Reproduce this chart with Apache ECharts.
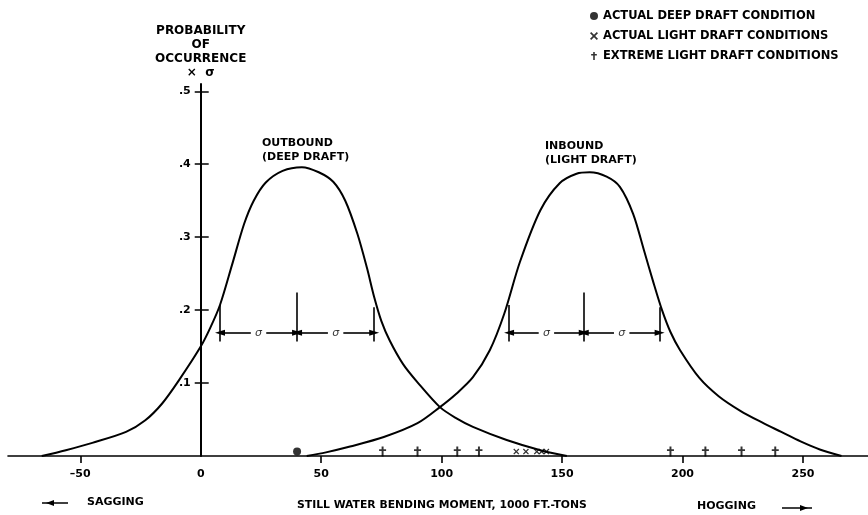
<!DOCTYPE html>
<html>
<head>
<meta charset="utf-8">
<script src="https://cdn.jsdelivr.net/npm/echarts@6/dist/echarts.min.js"></script>
<style>
  html, body { margin: 0; padding: 0; background: #fff; }
  #chart { width: 868px; height: 515px; }
</style>
</head>
<body>
<div id="chart"></div>
<script>
// Outbound (deep draft) distribution: bending moment vs probability x sigma
const outboundX = [-66, -56, -45, -31, -23, -16, -9, 0, 4, 8, 13, 18, 22, 27, 34, 42, 49, 55, 60, 65, 69, 72, 75, 78.5, 84, 90, 99.3, 106, 113, 127, 141, 152];
const outboundY = [0, 0.008, 0.018, 0.033, 0.049, 0.072, 0.104, 0.150, 0.176, 0.207, 0.262, 0.318, 0.350, 0.375, 0.391, 0.396, 0.389, 0.376, 0.350, 0.305, 0.258, 0.218, 0.185, 0.158, 0.126, 0.101, 0.067, 0.052, 0.040, 0.022, 0.008, 0];

// Inbound (light draft) distribution
const inboundX = [44, 52, 62, 76, 90, 99.3, 106, 113, 120, 126, 132.5, 141, 149, 156, 161.5, 168.5, 174, 179.5, 184, 188, 191.5, 195, 199, 207, 215, 224, 233, 241, 249, 257, 266];
const inboundY = [0, 0.005, 0.013, 0.026, 0.045, 0.067, 0.085, 0.108, 0.145, 0.195, 0.266, 0.337, 0.374, 0.387, 0.389, 0.383, 0.369, 0.332, 0.282, 0.237, 0.200, 0.170, 0.145, 0.107, 0.082, 0.062, 0.046, 0.033, 0.020, 0.009, 0];

// Observed conditions along the moment axis (1000 ft-tons)
const deepDraftActual = [40];
const lightDraftActual = [131, 135, 139.5, 141.5, 143.5];
const lightDraftExtreme = [75.5, 90, 106.5, 115.5, 195, 209.5, 224.5, 238.5];

// Axis ticks
const xTickValues = [-50, 0, 50, 100, 150, 200, 250];
const yTickValues = [0.1, 0.2, 0.3, 0.4, 0.5];

// Mean and +/- one standard deviation for each distribution
const outboundSigma = [8, 40, 72];
const inboundSigma = [128, 159, 190.5];
const sigmaBarTop = [0.207, 0.224, 0.204];
const sigmaBarBottom = 0.157;
const sigmaArrowLevel = 0.169;

const FONT = 'DejaVu Sans';
const MARK_Y = 0.006;
const X_MIN = -80, X_MAX = 277, Y_MAX = 0.51;
const PLOT = { left: 8, right: 0, top: 84, bottom: 59, width: 860 };

const zip = (xs, ys) => xs.map((x, i) => [x, ys[i]]);
const onAxis = xs => xs.map(x => [x, MARK_Y]);

function sigmaMarkLines(bars) {
  const lines = [];
  const gap = 3.2;
  bars.forEach((x, i) => {
    lines.push([{ coord: [x, sigmaBarBottom] }, { coord: [x, sigmaBarTop[i]] }]);
  });
  [[bars[0], bars[1]], [bars[1], bars[2]]].forEach(([a, b]) => {
    const c = (a + b) / 2;
    lines.push([{ coord: [c - gap, sigmaArrowLevel] }, { coord: [a, sigmaArrowLevel], symbol: 'triangle', symbolSize: [6, 10] }]);
    lines.push([{ coord: [c + gap, sigmaArrowLevel] }, { coord: [b, sigmaArrowLevel], symbol: 'triangle', symbolSize: [6, 10] }]);
  });
  return lines;
}

function sigmaLabels(bars) {
  return [[(bars[0] + bars[1]) / 2, sigmaArrowLevel], [(bars[1] + bars[2]) / 2, sigmaArrowLevel]];
}

const CROSS = 'path://M0,1.5L1.5,0L5,3.5L8.5,0L10,1.5L6.5,5L10,8.5L8.5,10L5,6.5L1.5,10L0,8.5L3.5,5Z';
const PLUS = 'path://M3.6,0H6.4V3.6H10V6.2H6.4V14H3.6V6.2H0V3.6H3.6Z';

// The probability axis sits at zero moment; a second grid starting at x = 0 carries it.
const zeroLeft = PLOT.left + (0 - X_MIN) / (X_MAX - X_MIN) * PLOT.width;

const chart = echarts.init(document.getElementById('chart'), null, { renderer: 'canvas' });

const curveStyle = { color: '#000', width: 2 };
const markLineBase = {
  silent: true,
  symbol: ['none', 'none'],
  label: { show: false },
  lineStyle: { color: '#000', width: 1.6, type: 'solid' },
  emphasis: { disabled: true },
  animation: false
};
const yTickStyle = { color: '#000', width: 1.5 };

chart.setOption({
  animation: false,
  backgroundColor: '#fff',
  textStyle: { fontFamily: FONT, color: '#000' },
  grid: [
    { left: PLOT.left, right: PLOT.right, top: PLOT.top, bottom: PLOT.bottom, containLabel: false, outerBoundsMode: 'none' },
    { left: zeroLeft, right: PLOT.right, top: PLOT.top, bottom: PLOT.bottom, containLabel: false, outerBoundsMode: 'none' }
  ],
  legend: {
    data: ['ACTUAL DEEP DRAFT CONDITION', 'ACTUAL LIGHT DRAFT CONDITIONS', 'EXTREME LIGHT DRAFT CONDITIONS'],
    orient: 'vertical',
    left: 585,
    top: 5,
    itemGap: 8,
    itemWidth: 8,
    itemHeight: 8,
    selectedMode: false,
    textStyle: { fontFamily: FONT, fontWeight: 'bold', fontSize: 11.5, color: '#000' }
  },
  xAxis: [{
    type: 'value',
    gridIndex: 0,
    min: X_MIN,
    max: X_MAX,
    splitLine: { show: false },
    axisLine: { onZero: false, lineStyle: { color: '#000', width: 1.6 } },
    axisTick: { show: true, inside: false, length: 7, customValues: xTickValues.filter(v => v !== 0), lineStyle: { color: '#000', width: 1.6 } },
    axisLabel: {
      customValues: xTickValues,
      margin: 13,
      fontFamily: FONT, fontWeight: 'bold', fontSize: 11, color: '#000',
      formatter: v => (v < 0 ? '\u2013' + (-v) : String(v))
    }
  }, {
    type: 'value',
    gridIndex: 1,
    min: 0,
    max: X_MAX,
    show: false
  }],
  yAxis: [{
    type: 'value',
    gridIndex: 0,
    min: 0,
    max: Y_MAX,
    show: false
  }, {
    type: 'value',
    gridIndex: 1,
    min: 0,
    max: Y_MAX,
    position: 'left',
    splitLine: { show: false },
    name: 'PROBABILITY\nOF\nOCCURRENCE\n\u00d7  \u03c3',
    nameLocation: 'end',
    nameGap: 4,
    nameTextStyle: { fontFamily: FONT, fontWeight: 'bold', fontSize: 12, lineHeight: 14, color: '#000', align: 'center' },
    axisLine: { onZero: false, lineStyle: { color: '#000', width: 2 } },
    axisTick: { show: true, inside: false, length: 6, customValues: yTickValues, lineStyle: yTickStyle },
    axisLabel: {
      customValues: yTickValues,
      margin: 10,
      fontFamily: FONT, fontWeight: 'bold', fontSize: 11, color: '#000',
      formatter: v => '.' + Math.round(v * 10)
    }
  }, {
    type: 'value',
    gridIndex: 1,
    min: 0,
    max: Y_MAX,
    position: 'left',
    splitLine: { show: false },
    axisLine: { show: false, onZero: false },
    axisTick: { show: true, inside: true, length: 8, customValues: yTickValues, lineStyle: yTickStyle },
    axisLabel: { show: false }
  }],
  series: [
    {
      name: 'Outbound',
      type: 'line',
      xAxisIndex: 0, yAxisIndex: 0,
      data: zip(outboundX, outboundY),
      smooth: 0.3,
      symbol: 'none',
      lineStyle: curveStyle,
      silent: true,
      z: 3,
      markLine: Object.assign({ data: sigmaMarkLines(outboundSigma) }, markLineBase)
    },
    {
      name: 'Inbound',
      type: 'line',
      xAxisIndex: 0, yAxisIndex: 0,
      data: zip(inboundX, inboundY),
      smooth: 0.3,
      symbol: 'none',
      lineStyle: curveStyle,
      silent: true,
      z: 3,
      markLine: Object.assign({ data: sigmaMarkLines(inboundSigma) }, markLineBase)
    },
    {
      name: 'sigma',
      type: 'scatter',
      xAxisIndex: 0, yAxisIndex: 0,
      data: sigmaLabels(outboundSigma).concat(sigmaLabels(inboundSigma)),
      symbolSize: 0,
      silent: true,
      label: {
        show: true, position: 'inside', formatter: '\u03c3',
        fontFamily: FONT, fontStyle: 'italic', fontSize: 11, color: '#000'
      }
    },
    {
      name: 'ACTUAL DEEP DRAFT CONDITION',
      type: 'scatter',
      xAxisIndex: 0, yAxisIndex: 0,
      data: onAxis(deepDraftActual),
      symbol: 'circle',
      symbolSize: 8,
      itemStyle: { color: '#000' },
      z: 5
    },
    {
      name: 'ACTUAL LIGHT DRAFT CONDITIONS',
      type: 'scatter',
      xAxisIndex: 0, yAxisIndex: 0,
      data: onAxis(lightDraftActual),
      symbol: CROSS,
      symbolSize: 6,
      itemStyle: { color: '#000' },
      z: 5
    },
    {
      name: 'EXTREME LIGHT DRAFT CONDITIONS',
      type: 'scatter',
      xAxisIndex: 0, yAxisIndex: 0,
      data: onAxis(lightDraftExtreme),
      symbol: PLUS,
      symbolSize: [7, 10],
      itemStyle: { color: '#000' },
      z: 5
    }
  ],
  graphic: [
    {
      type: 'text', left: 262, top: 136, silent: true,
      style: { text: 'OUTBOUND\n(DEEP DRAFT)', fill: '#000', font: 'bold 11px "DejaVu Sans"', lineHeight: 14 }
    },
    {
      type: 'text', left: 545, top: 139, silent: true,
      style: { text: 'INBOUND\n(LIGHT DRAFT)', fill: '#000', font: 'bold 11px "DejaVu Sans"', lineHeight: 14 }
    },
    {
      type: 'text', left: 87, top: 497, silent: true,
      style: { text: 'SAGGING', fill: '#000', font: 'bold 11px "DejaVu Sans"' }
    },
    {
      type: 'text', left: 297, top: 500, silent: true,
      style: { text: 'STILL WATER BENDING MOMENT, 1000 FT.-TONS', fill: '#000', font: 'bold 10.8px "DejaVu Sans"' }
    },
    {
      type: 'text', left: 697, top: 501, silent: true,
      style: { text: 'HOGGING', fill: '#000', font: 'bold 11px "DejaVu Sans"' }
    },
    {
      type: 'group', silent: true,
      children: [
        { type: 'line', shape: { x1: 42, y1: 503, x2: 68, y2: 503 }, style: { stroke: '#000', lineWidth: 1.5 } },
        { type: 'polygon', shape: { points: [[46, 503], [54, 500], [54, 506]] }, style: { fill: '#000' } },
        { type: 'line', shape: { x1: 782, y1: 508, x2: 812, y2: 508 }, style: { stroke: '#000', lineWidth: 1.5 } },
        { type: 'polygon', shape: { points: [[808, 508], [800, 505], [800, 511]] }, style: { fill: '#000' } }
      ]
    }
  ]
});
</script>
</body>
</html>
